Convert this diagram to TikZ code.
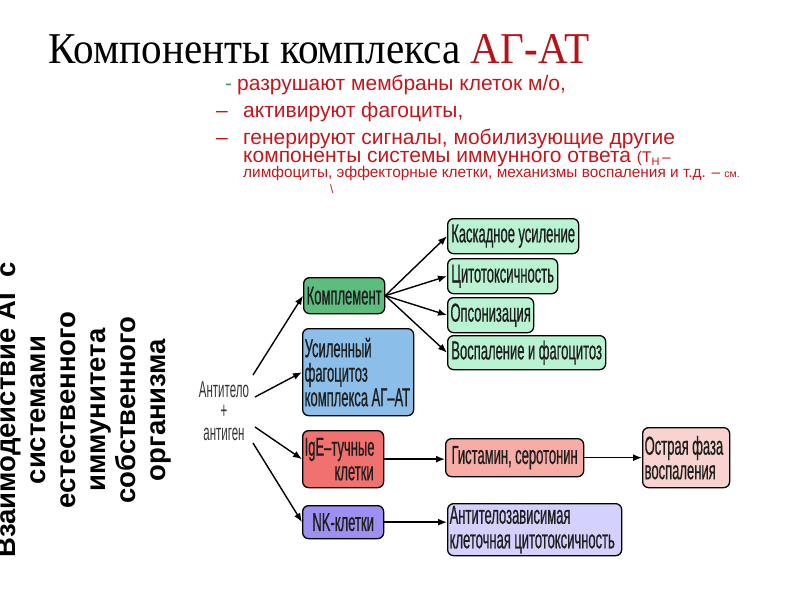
\documentclass[tikz,border=0pt]{standalone}
\usepackage{fontspec}
\setmainfont{Liberation Serif}
\newfontfamily\titlef[FakeStretch=0.935]{Liberation Serif}
\newfontfamily\arialf{Liberation Sans}
\newfontfamily\narrowf[FakeStretch=0.5]{Liberation Sans}
\newfontfamily\narrowbf[FakeStretch=0.5,FakeBold=0.6]{Liberation Sans}
\usetikzlibrary{arrows.meta}
\definecolor{kompl}{HTML}{5DBD7E}
\definecolor{mint}{HTML}{B9F3D2}
\definecolor{skyb}{HTML}{8CBEEA}
\definecolor{salmon}{HTML}{F0716D}
\definecolor{pinkb}{HTML}{F7ADA6}
\definecolor{pinkl}{HTML}{F8D3CF}
\definecolor{violb}{HTML}{9D90F0}
\definecolor{violl}{HTML}{D5D1FE}
\definecolor{redt}{HTML}{C4161C}
\definecolor{titred}{HTML}{B3141A}
\definecolor{greendash}{HTML}{3C9E5E}
\definecolor{txtd}{HTML}{1E1E1E}
\newcommand{\boxfont}{\narrowbf\fontsize{26}{24.5}\selectfont}
\tikzset{
  box/.style={draw=black, line width=1.3pt, rounded corners=6pt, inner xsep=2pt, inner ysep=0pt,
    anchor=north west, text=txtd, font=\boxfont, execute at begin node={\spaceskip=3.5pt plus 1pt minus 1pt\relax}},
  lbox/.style={box, align=left},
  arr/.style={-{Latex[length=9pt,width=7pt]}, line width=1.4pt},
  bul/.style={anchor=base west, text=redt, font=\arialf\fontsize{21}{21}\selectfont, inner sep=0pt}
}
\begin{document}
\begin{tikzpicture}[x=1pt,y=-1pt]
\useasboundingbox (0,0) rectangle (800,600);
\clip (0,0) rectangle (800,600);

% title
\node[anchor=base west, inner sep=0pt, font=\titlef\fontsize{44}{48}\selectfont] (title) at (48,63)
  {Компоненты комплекса \textcolor{titred}{АГ\textbf{-}АТ}};

% bullet lines
\node[bul, text=greendash] (d1) at (225,90) {-};
\node[bul] (l1) at (237,90) {разрушают мембраны клеток м/о,};
\node[bul] (d2) at (216,117) {–};
\node[bul] (l2) at (243,117) {активируют фагоциты,};
\node[bul] (d3) at (216,144) {–};
\node[bul] (l3) at (243,144) {генерируют сигналы, мобилизующие другие};
\node[bul] (l4) at (243,162) {компоненты системы иммунного ответа {\fontsize{15.5}{15}\selectfont (Т\raisebox{-3pt}{\fontsize{11}{11}\selectfont Н}\,–}};
\node[bul, font=\arialf\fontsize{15.4}{15}\selectfont] (l5) at (243,177)
  {лимфоциты, эффекторные клетки, механизмы воспаления и т.д. – {\fontsize{10.5}{10}\selectfont см.}};
\node[bul, font=\arialf\fontsize{12}{12}\selectfont] (bs) at (330,193) {\textbackslash};

% vertical text
\node[rotate=90, align=center, inner sep=0pt, font=\arialf\bfseries\fontsize{27.5}{30}\selectfont] (vert) at (83,410)
  {Взаимодействие АГ с\\системами\\естественного\\иммунитета\\собственного\\организма};

% source
\node[align=center, inner sep=0pt, text=black!80, font=\narrowf\fontsize{23}{21.5}\selectfont] (ab) at (224,411)
  {Антитело\\+\\антиген};
\coordinate (a1) at (253,375);
\coordinate (a2) at (255,397);
\coordinate (a3) at (255,427);
\coordinate (a4) at (253,443);

% boxes
\node[box, fill=kompl, minimum width=81pt, minimum height=36pt] (komp) at (303,277) {Комплемент};
\node[lbox, fill=skyb, text width=107pt, minimum height=87pt] (usil) at (302,328) {Усиленный\\фагоцитоз\\комплекса АГ–АТ};
\node[lbox, fill=salmon, text width=77pt, minimum height=57pt] (ige) at (302,430) {IgE–тучные\\\hspace*{\fill}клетки\hspace*{8pt}};
\node[box, fill=violb, minimum width=81pt, minimum height=33pt] (nk) at (302,505) {NK-клетки};

\node[box, fill=mint, minimum width=131pt, minimum height=35pt] (kask) at (447,218) {Каскадное усиление};
\node[box, fill=mint, minimum width=110pt, minimum height=35pt] (cito) at (447,258) {Цитотоксичность};
\node[box, fill=mint, minimum width=86pt, minimum height=35pt] (opso) at (447,297) {Опсонизация};
\node[box, fill=mint, minimum width=158pt, minimum height=34pt] (vosp) at (447,335) {Воспаление и фагоцитоз};

\node[box, fill=pinkb, minimum width=138pt, minimum height=38pt] (gist) at (445,438) {Гистамин, серотонин};
\node[lbox, fill=pinkl, text width=83pt, minimum height=60pt] (ostr) at (642,427) {Острая фаза\\воспаления};
\node[lbox, fill=violl, text width=170pt, minimum height=52pt] (azkc) at (447,503) {Антителозависимая\\клеточная цитотоксичность};

% arrows
\draw[arr] (a1) -- (komp.west);
\draw[arr] (a2) -- (usil.west);
\draw[arr] (a3) -- (ige.west);
\draw[arr] (a4) -- (nk.west);
\draw[arr] (komp.east) -- (kask.west);
\draw[arr] (komp.east) -- (cito.west);
\draw[arr] (komp.east) -- (opso.west);
\draw[arr] (komp.east) -- (vosp.west);
\draw[arr] (ige.east) -- (gist.west |- ige.east);
\draw[arr] (gist.east) -- (ostr.west |- gist.east);
\draw[arr] (nk.east) -- (azkc.west |- nk.east);
\end{tikzpicture}
\end{document}
